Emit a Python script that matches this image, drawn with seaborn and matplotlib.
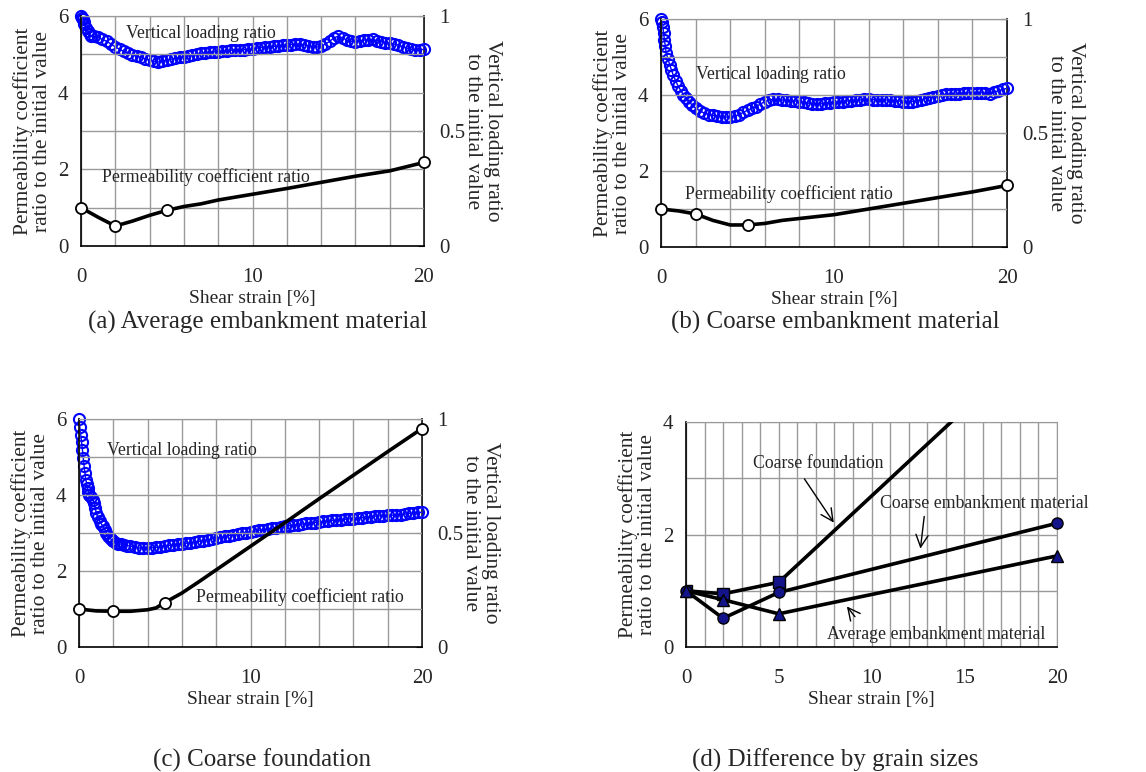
import numpy as np
import pandas as pd
import matplotlib
matplotlib.use("Agg")
import matplotlib.pyplot as plt
import seaborn as sns

# ---------------- data ----------------
# Permeability coefficient ratio (smoothed curve points and measured points)
perm_a_x = [0, 1, 2, 3, 4, 5, 6, 7, 8, 10, 12, 14, 16, 18, 20]
perm_a_y = [1.0, 0.75, 0.52, 0.65, 0.8, 0.93, 1.03, 1.1, 1.2, 1.35, 1.5, 1.66, 1.82, 1.96, 2.18]
perm_b_x = [0, 1, 2, 3, 4, 5, 6, 7, 8, 10, 12, 14, 16, 18, 20]
perm_b_y = [1.0, 0.95, 0.87, 0.7, 0.58, 0.58, 0.62, 0.7, 0.75, 0.85, 1.0, 1.15, 1.3, 1.45, 1.62]
perm_c_x = [0, 1, 2, 3, 4, 4.5, 5, 6, 7, 8, 10, 12, 14, 16, 18, 20]
perm_c_y = [1.0, 0.95, 0.94, 0.94, 0.98, 1.03, 1.17, 1.42, 1.72, 2.03, 2.65, 3.27, 3.9, 4.52, 5.14, 5.75]
meas_x = [0, 2, 5, 20]
meas_a = [1.0, 0.52, 0.93, 2.18]
meas_b = [1.0, 0.87, 0.58, 1.62]
meas_c = [1.0, 0.94, 1.17, 5.75]

# Vertical loading ratio (right axis), read along the dense marker band
vl_a_x = [0, 0.05, 0.1, 0.15, 0.2, 0.3, 0.4, 0.5, 0.6, 0.75,
          1.0, 1.25, 1.5, 1.75, 2.0, 2.25, 2.5, 2.75, 3.0, 3.25, 3.5, 3.75, 4.0, 4.25, 4.5, 4.75,
          5.0, 5.25, 5.5, 5.75, 6.0, 6.25, 6.5, 6.75, 7.0, 7.25, 7.5, 7.75, 8.0, 8.25, 8.5, 8.75,
          9.0, 9.25, 9.5, 9.75, 10.0, 10.25, 10.5, 10.75, 11.0, 11.25, 11.5, 11.75, 12.0, 12.25,
          12.5, 12.75, 13.0, 13.25, 13.5, 13.75, 14.0, 14.25, 14.5, 14.75, 15.0, 15.25, 15.5,
          15.75, 16.0, 16.25, 16.5, 16.75, 17.0, 17.25, 17.5, 17.75, 18.0, 18.25, 18.5, 18.75,
          19.0, 19.25, 19.5, 19.75, 20.0]
vl_a_y = [1.0, 0.99, 0.985, 0.975, 0.965, 0.95, 0.935, 0.92, 0.915, 0.912,
          0.907, 0.898, 0.89, 0.878, 0.866, 0.855, 0.846, 0.838, 0.83, 0.826, 0.82, 0.813, 0.808,
          0.803, 0.80, 0.803, 0.808, 0.812, 0.816, 0.82, 0.823, 0.826, 0.83, 0.834, 0.837, 0.84,
          0.842, 0.844, 0.845, 0.847, 0.85, 0.851, 0.852, 0.853, 0.854, 0.855, 0.856, 0.86, 0.863,
          0.865, 0.866, 0.868, 0.87, 0.872, 0.874, 0.876, 0.878, 0.877, 0.875, 0.87, 0.866, 0.865,
          0.868, 0.878, 0.89, 0.905, 0.912, 0.905, 0.895, 0.89, 0.888, 0.892, 0.895, 0.897, 0.898,
          0.893, 0.888, 0.884, 0.881, 0.878, 0.874, 0.867, 0.86, 0.855, 0.852, 0.853, 0.855]
vl_b_x = [0, 0.05, 0.1, 0.15, 0.2, 0.25, 0.3, 0.4, 0.5, 0.6, 0.7, 0.85, 1.0, 1.15, 1.3, 1.45,
          1.6, 1.8, 2.0, 2.25, 2.5, 2.75, 3.0, 3.25, 3.5, 3.75, 4.0, 4.25, 4.5, 4.75, 5.0, 5.25,
          5.5, 5.75, 6.0, 6.25, 6.5, 6.75, 7.0, 7.25, 7.5, 7.75, 8.0, 8.25, 8.5, 8.75, 9.0, 9.25,
          9.5, 9.75, 10.0, 10.25, 10.5, 10.75, 11.0, 11.25, 11.5, 11.75, 12.0, 12.25, 12.5, 12.75,
          13.0, 13.25, 13.5, 13.75, 14.0, 14.25, 14.5, 14.75, 15.0, 15.25, 15.5, 15.75, 16.0,
          16.25, 16.5, 16.75, 17.0, 17.25, 17.5, 17.75, 18.0, 18.25, 18.5, 18.75, 19.0, 19.25,
          19.5, 19.75, 20.0]
vl_b_y = [1.0, 0.985, 0.966, 0.94, 0.908, 0.88, 0.85, 0.825, 0.80, 0.778, 0.755, 0.728, 0.704,
          0.686, 0.667, 0.652, 0.638, 0.623, 0.609, 0.597, 0.587, 0.581, 0.577, 0.574, 0.572,
          0.57, 0.569, 0.573, 0.58, 0.59, 0.60, 0.608, 0.616, 0.627, 0.638, 0.645, 0.648, 0.647,
          0.645, 0.643, 0.641, 0.64, 0.638, 0.634, 0.631, 0.628, 0.626, 0.628, 0.631, 0.633,
          0.634, 0.636, 0.638, 0.64, 0.642, 0.644, 0.645, 0.647, 0.648, 0.646, 0.645, 0.645,
          0.645, 0.643, 0.642, 0.64, 0.638, 0.638, 0.638, 0.641, 0.645, 0.65, 0.655, 0.659,
          0.663, 0.667, 0.67, 0.67, 0.67, 0.672, 0.674, 0.676, 0.677, 0.677, 0.677, 0.674, 0.67,
          0.678, 0.686, 0.691, 0.696]
vl_c_x = [0, 0.05, 0.1, 0.15, 0.2, 0.25, 0.3, 0.35, 0.4, 0.45, 0.5, 0.55, 0.6, 0.7, 0.8, 0.9,
          0.95, 1.0, 1.1, 1.2, 1.3, 1.4, 1.5, 1.6, 1.7, 1.8, 1.9, 2.0, 2.15, 2.3, 2.45, 2.6, 2.8,
          3.0, 3.25, 3.5, 3.75, 4.0, 4.25, 4.5, 4.75, 5.0, 5.25, 5.5, 5.75, 6.0, 6.25, 6.5, 6.75,
          7.0, 7.25, 7.5, 7.75, 8.0, 8.25, 8.5, 8.75, 9.0, 9.25, 9.5, 9.75, 10.0, 10.25, 10.5,
          10.75, 11.0, 11.25, 11.5, 11.75, 12.0, 12.25, 12.5, 12.75, 13.0, 13.25, 13.5, 13.75,
          14.0, 14.25, 14.5, 14.75, 15.0, 15.25, 15.5, 15.75, 16.0, 16.25, 16.5, 16.75, 17.0,
          17.25, 17.5, 17.75, 18.0, 18.25, 18.5, 18.75, 19.0, 19.25, 19.5, 19.75, 20.0]
vl_c_y = [1.0, 0.965, 0.931, 0.898, 0.865, 0.828, 0.792, 0.762, 0.734, 0.715, 0.697, 0.682,
          0.668, 0.656, 0.646, 0.632, 0.61, 0.588, 0.568, 0.551, 0.54, 0.529, 0.514, 0.5, 0.488,
          0.478, 0.47, 0.463, 0.457, 0.453, 0.451, 0.449, 0.445, 0.442, 0.438, 0.434, 0.434,
          0.434, 0.435, 0.437, 0.44, 0.444, 0.446, 0.449, 0.451, 0.453, 0.455, 0.456, 0.46, 0.463,
          0.467, 0.471, 0.474, 0.478, 0.481, 0.485, 0.489, 0.493, 0.497, 0.5, 0.502, 0.504, 0.508,
          0.512, 0.515, 0.518, 0.521, 0.523, 0.526, 0.529, 0.532, 0.534, 0.537, 0.539, 0.542,
          0.544, 0.546, 0.548, 0.551, 0.553, 0.555, 0.556, 0.558, 0.56, 0.562, 0.563, 0.565,
          0.567, 0.57, 0.572, 0.574, 0.575, 0.576, 0.577, 0.578, 0.579, 0.581, 0.583, 0.586,
          0.588, 0.59, 0.591]

# Panel (d): difference by grain sizes
d_x = [0, 2, 5, 20]
d_average = [1.0, 0.51, 0.97, 2.2]
d_coarse_emb = [1.0, 0.84, 0.59, 1.62]
d_coarse_found = [1.0, 0.945, 1.15, 5.75]

captions = ["(a) Average embankment material", "(b) Coarse embankment material",
            "(c) Coarse foundation", "(d) Difference by grain sizes"]
left_label = "Permeability coefficient\nratio to the initial value"
right_label = "Vertical loading ratio\nto the initial value"
x_label = "Shear strain [%]"

# ---------------- style ----------------
sns.set_style("white")
plt.rcParams['font.family'] = ['Liberation Serif', 'DejaVu Serif']

W, H = 1146, 772
fig = plt.figure(figsize=(W / 100, H / 100), dpi=100)


def rect(l, r, t, b):
    return [l / W, 1 - b / H, (r - l) / W, (b - t) / H]


GRID = "#9a9a9a"
BLUE = "#0000ff"
TICK_FS = 15
LAB_FS = 15.5
XLAB_FS = 14
ANN_FS = 12.8


def dual_panel(box, px, py, mx, my, vx, vy, vtxt, ptxt):
    ax = fig.add_axes(rect(*box))
    ax2 = ax.twinx()
    ax.set_xlim(0, 20)
    ax.set_ylim(0, 6)
    ax2.set_ylim(0, 1)
    ax.set_xticks(np.arange(0, 21, 2), minor=True)
    ax.set_xticks([0, 10, 20])
    ax.set_yticks([0, 1, 2, 3, 4, 5, 6], minor=True)
    ax.set_yticks([0, 2, 4, 6])
    ax.grid(True, which="both", color=GRID, lw=1.0)
    ax.set_axisbelow(True)
    ax.tick_params(which="both", length=0, labelsize=TICK_FS)
    ax.tick_params(axis="x", pad=16)
    ax.tick_params(axis="y", pad=9)
    ax2.set_yticks([0, 0.5, 1])
    ax2.set_yticklabels(["0", "0.5", "1"])
    ax2.tick_params(length=4, direction="in", labelsize=TICK_FS, pad=11)
    ax.spines["top"].set_color(GRID)
    ax2.spines["top"].set_color(GRID)
    for s in ["left", "bottom"]:
        ax.spines[s].set_color("black")
        ax.spines[s].set_linewidth(1.2)
    ax2.spines["right"].set_color("black")
    ax2.spines["right"].set_linewidth(1.2)
    ax2.spines["left"].set_visible(False)
    ax2.spines["bottom"].set_visible(False)
    ax.spines["right"].set_visible(False)

    # vertical loading ratio (blue hollow circles)
    sns.lineplot(x=vx, y=vy, ax=ax2, color=BLUE, lw=1.0, marker="o", markersize=8,
                 markerfacecolor="none", markeredgecolor=BLUE, markeredgewidth=1.5,
                 clip_on=False, zorder=3)
    # permeability ratio
    sns.lineplot(x=px, y=py, ax=ax, color="black", lw=2.6, zorder=4)
    ax.plot(mx, my, ls="none", marker="o", ms=8, mfc="white", mec="black", mew=1.3,
            clip_on=False, zorder=5)
    ax.set_zorder(ax2.get_zorder() + 1)
    ax.patch.set_visible(False)

    ax.text(vtxt[0], vtxt[1], "Vertical loading ratio", fontsize=ANN_FS, va="center", zorder=6)
    ax.text(ptxt[0], ptxt[1], "Permeability coefficient ratio", fontsize=ANN_FS, va="center",
            zorder=6)
    ax.set_xlabel(x_label, fontsize=XLAB_FS, labelpad=2)
    ax.set_ylabel(left_label, fontsize=LAB_FS, labelpad=4, linespacing=1.05)
    ax2.set_ylabel("")
    ax.text(1.17, 0.5, right_label, transform=ax.transAxes, rotation=270, ha="center",
            va="center", fontsize=LAB_FS, linespacing=1.05, multialignment="center")
    return ax


dual_panel((81, 424, 16, 246), perm_a_x, perm_a_y, meas_x, meas_a, vl_a_x, vl_a_y,
           (2.6, 5.55), (1.2, 1.8))
dual_panel((661, 1007, 19, 247), perm_b_x, perm_b_y, meas_x, meas_b, vl_b_x, vl_b_y,
           (2.0, 4.55), (1.4, 1.4))
dual_panel((79, 422, 419, 647), perm_c_x, perm_c_y, meas_x, meas_c, vl_c_x, vl_c_y,
           (1.65, 5.17), (6.8, 1.31))

# ---------------- panel (d) ----------------
axd = fig.add_axes(rect(686, 1057, 422, 647))
axd.set_xlim(0, 20)
axd.set_ylim(0, 4)
axd.set_xticks(np.arange(0, 21, 1), minor=True)
axd.set_xticks([0, 5, 10, 15, 20])
axd.set_yticks([0, 1, 2, 3, 4], minor=True)
axd.set_yticks([0, 2, 4])
axd.grid(True, which="both", color=GRID, lw=1.0)
axd.set_axisbelow(True)
axd.tick_params(which="both", length=0, labelsize=TICK_FS)
axd.tick_params(axis="x", pad=16)
axd.tick_params(axis="y", pad=9)
for s in ["top", "right"]:
    axd.spines[s].set_color(GRID)
for s in ["left", "bottom"]:
    axd.spines[s].set_color("black")
    axd.spines[s].set_linewidth(1.2)

NAVY = "#14148a"
sns.lineplot(x=d_x, y=d_coarse_found, ax=axd, color="black", lw=2.6, marker="s", markersize=8,
             markerfacecolor=NAVY, markeredgecolor="black", markeredgewidth=1.0, zorder=4)
sns.lineplot(x=d_x, y=d_average, ax=axd, color="black", lw=2.6, marker="o", markersize=8,
             markerfacecolor=NAVY, markeredgecolor="black", markeredgewidth=1.0, zorder=4,
             clip_on=False)
sns.lineplot(x=d_x, y=d_coarse_emb, ax=axd, color="black", lw=2.6, marker="^", markersize=9,
             markerfacecolor=NAVY, markeredgecolor="black", markeredgewidth=1.0, zorder=4,
             clip_on=False)

arrow = dict(arrowstyle="->", color="black", lw=1.0, mutation_scale=22)
axd.text(3.6, 3.26, "Coarse foundation", fontsize=ANN_FS, va="center")
axd.annotate("", xy=(8.05, 2.17), xytext=(6.3, 3.03), arrowprops=arrow)
axd.text(10.45, 2.55, "Coarse embankment material", fontsize=ANN_FS, va="center", clip_on=False)
axd.annotate("", xy=(12.62, 1.70), xytext=(12.86, 2.37), arrowprops=arrow)
axd.text(7.6, 0.22, "Average embankment material", fontsize=ANN_FS, va="center")
axd.annotate("", xy=(8.58, 0.76), xytext=(9.2, 0.5), arrowprops=arrow)
axd.set_xlabel(x_label, fontsize=XLAB_FS, labelpad=2)
axd.set_ylabel(left_label, fontsize=LAB_FS, labelpad=4, linespacing=1.05)

# ---------------- captions ----------------
CAP_FS = 18
fig.text(258 / W, 1 - 322 / H, captions[0], fontsize=CAP_FS, ha="center", va="center")
fig.text(835 / W, 1 - 322 / H, captions[1], fontsize=CAP_FS, ha="center", va="center")
fig.text(262 / W, 1 - 760 / H, captions[2], fontsize=CAP_FS, ha="center", va="center")
fig.text(835 / W, 1 - 760 / H, captions[3], fontsize=CAP_FS, ha="center", va="center")

fig.savefig("out.png", dpi=100)
